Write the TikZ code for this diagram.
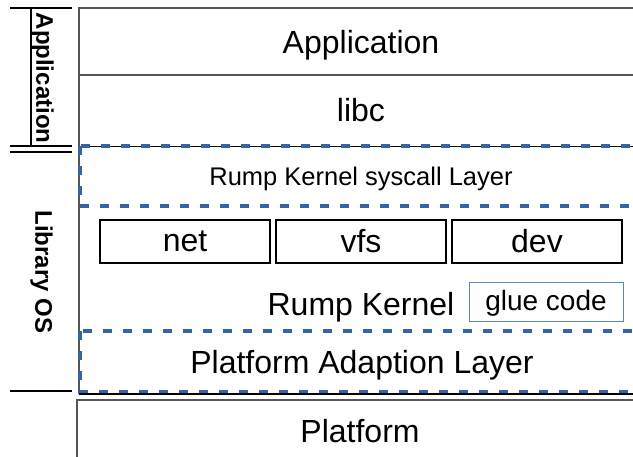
\documentclass[tikz,border=0pt]{standalone}
\usepackage{fontspec}
\setmainfont{Liberation Sans}
\definecolor{dashblue}{RGB}{52,100,165}
\definecolor{glueblue}{RGB}{90,135,200}
\definecolor{framegray}{RGB}{85,85,85}
\begin{document}
\begin{tikzpicture}[x=1pt,y=-1pt,
  big/.style={font=\fontsize{32}{38}\selectfont, inner sep=0pt, anchor=base},
  mid/.style={font=\fontsize{25.5}{30}\selectfont, inner sep=0pt, anchor=base},
  side/.style={font=\fontsize{24}{28}\selectfont\bfseries, inner sep=0pt, rotate=-90},
  bluedash/.style={draw=dashblue, line width=3.5pt, dash pattern=on 9pt off 11pt},
  frameline/.style={draw=framegray, line width=1.6pt},
  bracket/.style={draw=black, line width=1.2pt},
  cell/.style={draw=black, line width=1.1pt, minimum width=170pt, minimum height=43pt, inner sep=0pt, font=\fontsize{32}{38}\selectfont},
  gluebox/.style={draw=glueblue, line width=1pt, minimum width=154pt, minimum height=39pt, inner sep=0pt, text depth=3pt, font=\fontsize{28}{34}\selectfont}
]
\useasboundingbox (0,0) rectangle (633,456);
\clip (0,0) rectangle (633,456);

% side brackets
\draw[bracket] (10,8) -- (72,8);
\draw[bracket] (31,8) -- (31,146);
\draw[bracket] (10,146) -- (72,146);
\draw[bracket] (10,152) -- (72,152);
\draw[bracket] (10,391) -- (72,391);
\node[side] (lblapp) at (42.5,78) {Application};
\node[side] (lbllos) at (41.5,272) {Library OS};

% main frame
\draw[frameline] (79,394) -- (79,8) -- (645,8);
\draw[frameline] (79,75) -- (645,75);
\draw[black, line width=1pt] (79,146) -- (645,146);

% dashed layers
\draw[bluedash] (80,146) rectangle (645,206);
\draw[bluedash] (80,331) rectangle (645,392);
\draw[black, line width=1.2pt] (79,394) -- (645,394);

% platform box
\draw[frameline] (77,462) -- (77,400) -- (645,400);

% texts
\node[big] (app) at (361,53) {Application};
\node[big] (libc) at (361,121) {libc};
\node[mid] (sys) at (361,185) {Rump Kernel syscall Layer};
\node[cell] (net) at (185,241.5) {net};
\node[cell] (vfs) at (361,241.5) {vfs};
\node[cell] (dev) at (537,241.5) {dev};
\node[big] (rk) at (361,315) {Rump Kernel};
\node[gluebox] (glue) at (546,301.5) {glue code};
\node[big] (pal) at (362,373) {Platform Adaption Layer};
\node[big] (plat) at (360,442) {Platform};
\end{tikzpicture}
\end{document}
